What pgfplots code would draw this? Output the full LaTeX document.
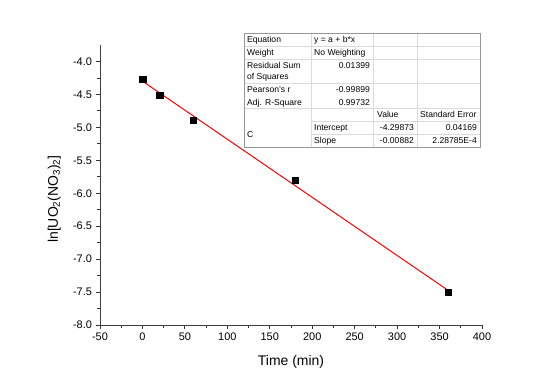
\documentclass[border=0pt]{standalone}
\usepackage{fontspec}
\setmainfont{Liberation Sans}
\usepackage{pgfplots}
\pgfplotsset{compat=1.18}
\definecolor{tabline}{RGB}{218,218,218}
\definecolor{tabborder}{RGB}{150,150,150}
\newcommand\tf{\fontsize{8.6}{10}\selectfont}
\begin{document}
\begin{tikzpicture}
\path (0,0) rectangle (560bp,390bp);
\begin{axis}[
  at={(100bp,65bp)}, anchor=south west,
  scale only axis, width=382bp, height=280bp,
  xmin=-50, xmax=400, ymin=-8, ymax=-3.75,
  xtick={-50,0,...,400}, ytick={-8,-7.5,...,-4},
  minor x tick num=1, minor y tick num=1,
  axis x line*=bottom, axis y line*=left,
  axis line style={-, line width=0.9bp, black!75},
  tick align=outside, major tick length=4.5bp, minor tick length=3bp,
  every tick/.style={black!80, line width=0.8bp},
  tick label style={font=\fontsize{11}{13}\selectfont},
  /pgf/number format/assume math mode=true,
  yticklabel={\pgfmathprintnumber[fixed,fixed zerofill,precision=1]{\tick}},
  xlabel={Time (min)},
  ylabel={ln[UO\textsubscript{2}(NO\textsubscript{3})\textsubscript{2}]},
  label style={font=\fontsize{14}{16}\selectfont},
  xlabel style={at={(axis description cs:0.5,-0.13)}, anchor=center},
  ylabel style={at={(axis description cs:-0.12,0.45)}, anchor=center},
  clip=false,
]
\addplot[red, line width=1bp] coordinates {(0,-4.29873) (360,-7.47393)};
\addplot[only marks, mark=square*, mark size=3.3bp, black] coordinates {
  (0,-4.27) (20,-4.515) (60,-4.89) (180,-5.80) (360,-7.50)};
\end{axis}
\begin{scope}[shift={(0,390bp)}, x=1bp, y=-1bp]
\fill[white] (244,33) rectangle (480,147);
\draw[tabline, line width=0.6bp] (244,46)--(480,46) (244,59)--(480,59) (244,83)--(480,83)
  (244,108)--(480,108) (311,121)--(480,121) (311,134)--(480,134)
  (311,33)--(311,147) (373,33)--(373,147) (417,33)--(417,147);
\draw[tabborder, line width=0.8bp] (244,33) rectangle (480,147);
\tf
\node[anchor=base west, inner sep=0] at (247,43) {Equation};
\node[anchor=base west, inner sep=0] at (247,56) {Weight};
\node[anchor=base west, inner sep=0] at (247,68.5) {Residual Sum};
\node[anchor=base west, inner sep=0] at (247,79.5) {of Squares};
\node[anchor=base west, inner sep=0] at (247,93) {Pearson's r};
\node[anchor=base west, inner sep=0] at (247,105.5) {Adj. R-Square};
\node[anchor=base west, inner sep=0] at (247,137.5) {C};
\node[anchor=base west, inner sep=0] at (314,43) {y = a + b*x};
\node[anchor=base west, inner sep=0] at (314,56) {No Weighting};
\node[anchor=base east, inner sep=0] at (370,68.5) {0.01399};
\node[anchor=base east, inner sep=0] at (370,93) {-0.99899};
\node[anchor=base east, inner sep=0] at (370,105.5) {0.99732};
\node[anchor=base west, inner sep=0] at (314,131) {Intercept};
\node[anchor=base west, inner sep=0] at (314,144) {Slope};
\node[anchor=base west, inner sep=0] at (377,118) {Value};
\node[anchor=base east, inner sep=0] at (414,131) {-4.29873};
\node[anchor=base east, inner sep=0] at (414,144) {-0.00882};
\node[anchor=base west, inner sep=0] at (420,118) {Standard Error};
\node[anchor=base east, inner sep=0] at (477,131) {0.04169};
\node[anchor=base east, inner sep=0] at (477,144) {2.28785E-4};
\end{scope}
\end{tikzpicture}
\end{document}
